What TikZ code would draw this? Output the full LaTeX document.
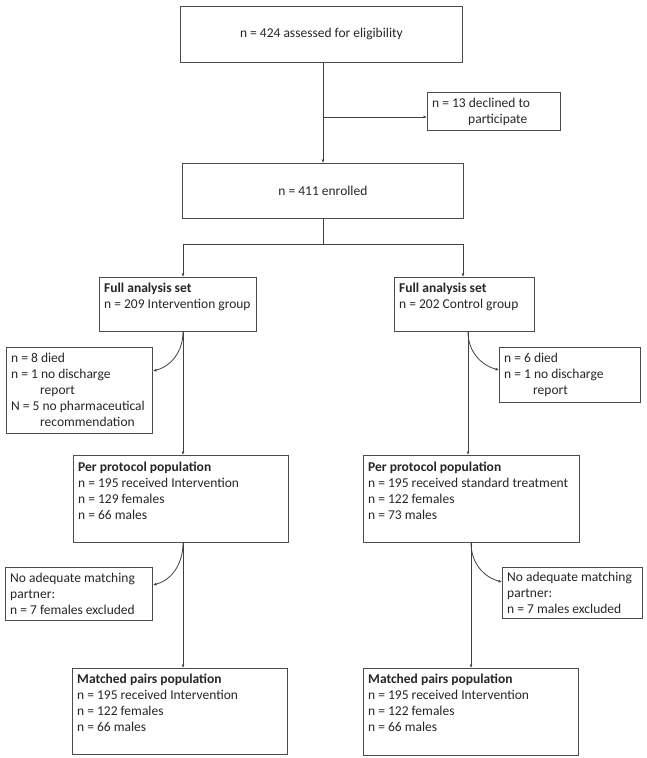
\documentclass[tikz,border=0pt]{standalone}
\usepackage{fontspec}
\setmainfont{Carlito}
\usetikzlibrary{arrows.meta}
\tikzset{
  boxframe/.style={draw=black!70, line width=0.8pt, inner sep=0pt, anchor=north west},
  boxtext/.style={anchor=north west, inner sep=0pt, align=left, text=black!85,
    font=\fontsize{13.5}{16}\selectfont, yshift=-1.5pt},
  ctext/.style={inner sep=0pt, text=black!85, font=\fontsize{13.5}{16}\selectfont},
  conn/.style={draw=black!75, line width=0.8pt},
  arr/.style={conn, -{Latex[length=3.5pt,width=3pt]}},
}
\newcommand{\ind}{\hspace*{29pt}}
\begin{document}
\begin{tikzpicture}[x=1pt,y=-1pt]
\useasboundingbox (0,0) rectangle (647,758);
% boxes
\node[boxframe, minimum width=282, minimum height=56] (top) at (180,6) {};
\node[ctext] (toptxt) at (top.center) {n = 424 assessed for eligibility};
\node[boxframe, minimum width=133, minimum height=38] (dec) at (427,92) {};
\node[boxtext] (dectxt) at (432,96) {n = 13 declined to\\\hspace*{36pt}participate};
\node[boxframe, minimum width=281, minimum height=55] (enr) at (182,163) {};
\node[ctext] (enrtxt) at (enr.center) {n = 411 enrolled};
\node[boxframe, minimum width=157, minimum height=54] (fas1) at (99,277) {};
\node[boxtext] (fas1txt) at (104,281) {\textbf{Full analysis set}\\n = 209 Intervention group};
\node[boxframe, minimum width=140, minimum height=54] (fas2) at (394,277) {};
\node[boxtext] (fas2txt) at (399,281) {\textbf{Full analysis set}\\n = 202 Control group};
\node[boxframe, minimum width=146, minimum height=86] (ex1) at (6,347) {};
\node[boxtext] (ex1txt) at (11,351) {n = 8 died\\n = 1 no discharge\\\ind report\\N = 5 no pharmaceutical\\\ind recommendation};
\node[boxframe, minimum width=141, minimum height=55] (ex3) at (499,347) {};
\node[boxtext] (ex3txt) at (504,351) {n = 6 died\\n = 1 no discharge\\\ind report};
\node[boxframe, minimum width=215, minimum height=87] (pp1) at (73,455) {};
\node[boxtext] (pp1txt) at (78,460) {\textbf{Per protocol population}\\n = 195 received Intervention\\n = 129 females\\n = 66 males};
\node[boxframe, minimum width=216, minimum height=87] (pp2) at (363,455) {};
\node[boxtext] (pp2txt) at (368,460) {\textbf{Per protocol population}\\n = 195 received standard treatment\\n = 122 females\\n = 73 males};
\node[boxframe, minimum width=147, minimum height=53] (ex2) at (5,567) {};
\node[boxtext] (ex2txt) at (10,571) {No adequate matching\\partner:\\n = 7 females excluded};
\node[boxframe, minimum width=140, minimum height=51] (ex4) at (502,567) {};
\node[boxtext] (ex4txt) at (507,570) {No adequate matching\\partner:\\n = 7 males excluded};
\node[boxframe, minimum width=215, minimum height=86] (mp1) at (72,668) {};
\node[boxtext] (mp1txt) at (77,672) {\textbf{Matched pairs population}\\n = 195 received Intervention\\n = 122 females\\n = 66 males};
\node[boxframe, minimum width=215, minimum height=87] (mp2) at (363,668) {};
\node[boxtext] (mp2txt) at (368,672) {\textbf{Matched pairs population}\\n = 195 received Intervention\\n = 122 females\\n = 66 males};
% trunk coordinates
\coordinate (T) at (323,0);
\coordinate (m1) at (323,117);
\coordinate (sp) at (323,244);
\coordinate (spL) at (183,244);
\coordinate (spR) at (463,244);
\coordinate (L) at (183,0);
\coordinate (R1) at (468,0);
\coordinate (R2) at (471,0);
\coordinate (e1) at (153,371);
\coordinate (e3) at (499,370);
\coordinate (e2) at (153,585);
\coordinate (e4) at (502,582);
% connectors
\draw[arr] (top.south -| T) -- (enr.north -| T);
\draw[arr] (m1) -- (m1 -| dec.west);
\draw[conn] (enr.south -| sp) -- (sp);
\draw[conn] (spL) -- (spR);
\draw[arr] (spL) -- (fas1.north -| spL);
\draw[arr] (spR) -- (fas2.north -| spR);
\draw[arr] (fas1.south -| L) -- (pp1.north -| L);
\draw[arr] (fas1.south -| L) to[out=-90,in=15] (e1);
\draw[arr] (fas2.south -| R1) -- (pp2.north -| R1);
\draw[arr] (fas2.south -| R1) to[out=-90,in=165] (e3);
\draw[arr] (pp1.south -| L) -- (mp1.north -| L);
\draw[arr] (pp1.south -| L) to[out=-90,in=15] (e2);
\draw[arr] (pp2.south -| R2) -- (mp2.north -| R2);
\draw[arr] (pp2.south -| R2) to[out=-90,in=165] (e4);
\end{tikzpicture}
\end{document}
